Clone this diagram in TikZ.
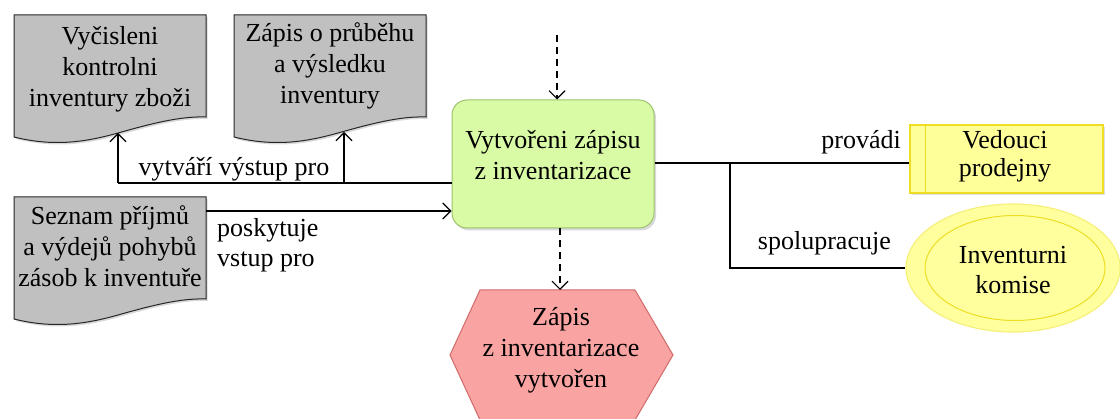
\documentclass[tikz,border=0pt]{standalone}
\usepackage{fontspec}
\setmainfont{Liberation Serif}
\usetikzlibrary{arrows.meta,shadows,shapes.geometric,calc}

\definecolor{docgray}{HTML}{C0C0C0}
\definecolor{actfill}{HTML}{D9FBA6}
\definecolor{actdraw}{HTML}{9CC46A}
\definecolor{evfill}{HTML}{F9A3A3}
\definecolor{evdraw}{HTML}{D26A6A}
\definecolor{orgfill}{HTML}{FFFF9A}
\definecolor{orgdraw}{HTML}{EEDD22}
\definecolor{ellfill}{HTML}{FFFF9E}
\definecolor{elldraw}{HTML}{F6F07A}

\tikzset{
  txt/.style={align=center, inner sep=0pt, font=\fontsize{26}{31}\selectfont},
  lbl/.style={inner sep=0pt, font=\fontsize{26}{30}\selectfont},
  docshape/.style={fill=docgray, draw=black!85, line width=1pt,
    drop shadow={shadow xshift=1.5pt, shadow yshift=-2pt, opacity=0.3}},
  actbox/.style={rectangle, rounded corners=15pt, fill=actfill, draw=actdraw,
    line width=1pt, drop shadow={shadow xshift=2pt, shadow yshift=-2.5pt, opacity=0.3}},
  evshape/.style={fill=evfill, draw=evdraw, line width=1pt},
  orgbox/.style={rectangle, fill=orgfill, draw=orgdraw, line width=1.2pt,
    drop shadow={shadow xshift=1.5pt, shadow yshift=-2pt, opacity=0.25}},
  ellouter/.style={ellipse, fill=ellfill, draw=elldraw, line width=1.2pt},
  ellinner/.style={ellipse, draw=orgdraw, line width=1pt},
  conn/.style={line width=1.1pt, black},
  flow/.style={conn, -{Straight Barb[length=8pt,width=16pt,line width=1.1pt]}},
  ctrl/.style={flow, dashed, dash pattern=on 7pt off 5pt},
}

% document outline: flat top, wavy bottom; (#1,#2) is the upper left corner
\newcommand{\docoutline}[2]{%
  \path[docshape, shift={(#1,#2)}] (0,0) -- (192,0) -- (192,102)
    .. controls (166,101) and (136,109) .. (104,118)
    .. controls (72,127) and (40,132) .. (0,122) -- cycle;}

\begin{document}
\begin{tikzpicture}[x=1pt, y=-1pt]
\useasboundingbox (0,0) rectangle (1120,419);

% input / output documents
\docoutline{14}{15}
\node[txt] (docA) at (110,69) {Vyčisleni\\kontrolni\\inventury zboži};
\coordinate (docAbot) at (118,133);

\docoutline{234}{15}
\node[txt] (docB) at (330,66) {Zápis o průběhu\\a výsledku\\inventury};
\coordinate (docBbot) at (344,132);

\docoutline{14}{197}
\node[txt] (docC) at (110,246) {Seznam příjmů\\a výdejů pohybů\\zásob k inventuře};
\coordinate (docCout) at (206,211);

% the activity
\node[actbox, minimum width=202pt, minimum height=128pt] (act) at (553,164) {};
\node[txt] (acttext) at (553,155) {Vytvořeni zápisu\\z inventarizace};

% resulting event
\path[evshape] (480,290) -- (635,290) -- (673,355) -- (635,420)
  -- (480,420) -- (450,355) -- cycle;
\coordinate (evtop) at (560,290);
\node[txt] (ev) at (561,350) {Zápis\\z inventarizace\\vytvořen};

% organisational units
\node[orgbox, minimum width=193pt, minimum height=68pt] (ved) at (1006.5,159) {};
\draw[orgdraw, line width=1.2pt] ($(ved.north west)+(16,0)$) -- ($(ved.south west)+(16,0)$);
\node[txt, font=\fontsize{26}{28}\selectfont] (vedtext) at (1005,156) {Vedouci\\prodejny};

\node[ellouter, minimum width=214pt, minimum height=128pt, inner sep=0pt] (kom) at (1013,268) {};
\node[ellinner, minimum width=180pt, minimum height=105pt, inner sep=0pt] (komin) at (1015,268) {};
\node[txt, font=\fontsize{26}{30}\selectfont] (komtext) at (1013,270) {Inventurni\\komise};

% triggering control flow
\coordinate (trig) at (557,35);
\draw[ctrl] (trig) -- (act.north -| trig);
\draw[ctrl] (act.south -| evtop) -- (evtop);

% output flows
\coordinate (split) at (118,183);
\draw[conn] (act.west |- split) -- (split);
\draw[flow] (split) -- (docAbot);
\draw[flow] (docBbot |- split) -- (docBbot);
\node[lbl] (outlbl) at (234,169) {vytváří výstup pro};

% input flow
\draw[flow] (docCout) -- (act.west |- docCout);
\node[lbl, align=left, anchor=north west] (inlbl) at (217,218) {poskytuje\\vstup pro};

% organisational assignments
\coordinate (branch) at (730,163);
\draw[conn] (act.east |- branch) -- (ved.west |- branch);
\draw[conn] (branch) |- (kom.west);
\node[lbl, anchor=east] (provlbl) at (901,142) {provádi};
\node[lbl, anchor=east] (spollbl) at (891,243) {spolupracuje};
\end{tikzpicture}
\end{document}
